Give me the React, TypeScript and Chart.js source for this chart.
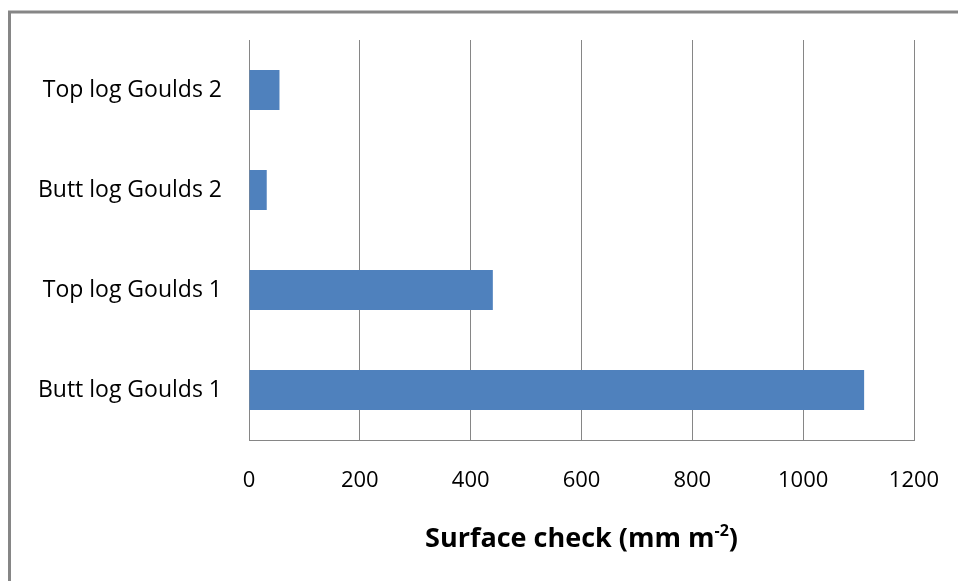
import React, { useEffect, useRef } from "react";
import { Chart, registerables } from "chart.js";

Chart.register(...registerables);

const categories: string[] = [
  "Butt log Goulds 1",
  "Top log Goulds 1",
  "Butt log Goulds 2",
  "Top log Goulds 2",
];
const surfaceCheck: number[] = [1110, 440, 32, 55];
const xTicks: number[] = [0, 200, 400, 600, 800, 1000, 1200];
const titleMain = "Surface check (mm m";
const titleSup = "-2";
const titleEnd = ")";

const FONT = "'Open Sans', 'Liberation Sans', sans-serif";

const framePlugin = {
  id: "frame",
  beforeDraw(chart: any) {
    const { ctx, width, height } = chart;
    ctx.save();
    ctx.fillStyle = "#ffffff";
    ctx.fillRect(0, 0, width, height);
    ctx.strokeStyle = "#868686";
    ctx.lineWidth = 3;
    ctx.beginPath();
    ctx.moveTo(9.5, height + 10);
    ctx.lineTo(9.5, 12);
    ctx.lineTo(width + 10, 12);
    ctx.stroke();
    ctx.restore();
  },
  afterDraw(chart: any) {
    const { ctx, chartArea } = chart;
    ctx.save();
    const mainFont = `bold 27px ${FONT}`;
    const supFont = `bold 16px ${FONT}`;
    ctx.font = mainFont;
    const w1 = ctx.measureText(titleMain).width;
    const w3 = ctx.measureText(titleEnd).width;
    ctx.font = supFont;
    const w2 = ctx.measureText(titleSup).width;
    const total = w1 + w2 + w3;
    const cx = (chartArea.left + chartArea.right) / 2;
    let x = cx - total / 2;
    const baseY = 547;
    ctx.fillStyle = "#000000";
    ctx.textBaseline = "alphabetic";
    ctx.textAlign = "left";
    ctx.font = mainFont;
    ctx.fillText(titleMain, x, baseY);
    x += w1;
    ctx.font = supFont;
    ctx.fillText(titleSup, x, baseY - 11);
    x += w2;
    ctx.font = mainFont;
    ctx.fillText(titleEnd, x, baseY);
    ctx.restore();
  },
};

export default function App() {
  const canvasRef = useRef<HTMLCanvasElement | null>(null);

  useEffect(() => {
    if (!canvasRef.current) return;
    const chart = new Chart(canvasRef.current, {
      type: "bar",
      data: {
        labels: categories,
        datasets: [
          {
            label: "Surface check",
            data: surfaceCheck,
            backgroundColor: "#4F81BD",
            borderWidth: 0,
            categoryPercentage: 0.4,
            barPercentage: 1,
          },
        ],
      },
      options: {
        indexAxis: "y",
        animation: false,
        responsive: false,
        maintainAspectRatio: false,
        layout: { padding: { top: 40, right: 44, left: 0, bottom: 0 } },
        plugins: {
          legend: { display: false },
          tooltip: { enabled: false },
        },
        scales: {
          x: {
            min: 0,
            max: 1200,
            afterBuildTicks: (scale: any) => {
              scale.ticks = xTicks.map((v) => ({ value: v }));
            },
            afterFit: (scale: any) => {
              scale.height = 141;
              scale.paddingLeft = 0;
              scale.paddingRight = 0;
            },
            grid: {
              display: true,
              color: "#868686",
              lineWidth: 1,
              drawTicks: false,
            },
            border: { display: true, color: "#868686", width: 1 },
            ticks: {
              padding: 28,
              color: "#000000",
              font: { family: FONT, size: 22 },
              maxRotation: 0,
              callback: (value: any) => String(value),
            },
          },
          y: {
            reverse: true,
            afterFit: (scale: any) => {
              scale.width = 249;
              scale.paddingTop = 0;
              scale.paddingBottom = 0;
            },
            grid: { display: false, drawTicks: false },
            border: { display: true, color: "#868686", width: 1 },
            ticks: {
              padding: 27,
              color: "#000000",
              font: { family: FONT, size: 23 },
            },
          },
        },
      },
      plugins: [framePlugin],
    });
    return () => chart.destroy();
  }, []);

  return (
    <div style={{ position: "absolute", left: 0, top: 0, width: 958, height: 581 }}>
      <canvas ref={canvasRef} width={958} height={581} style={{ width: 958, height: 581 }} />
    </div>
  );
}
